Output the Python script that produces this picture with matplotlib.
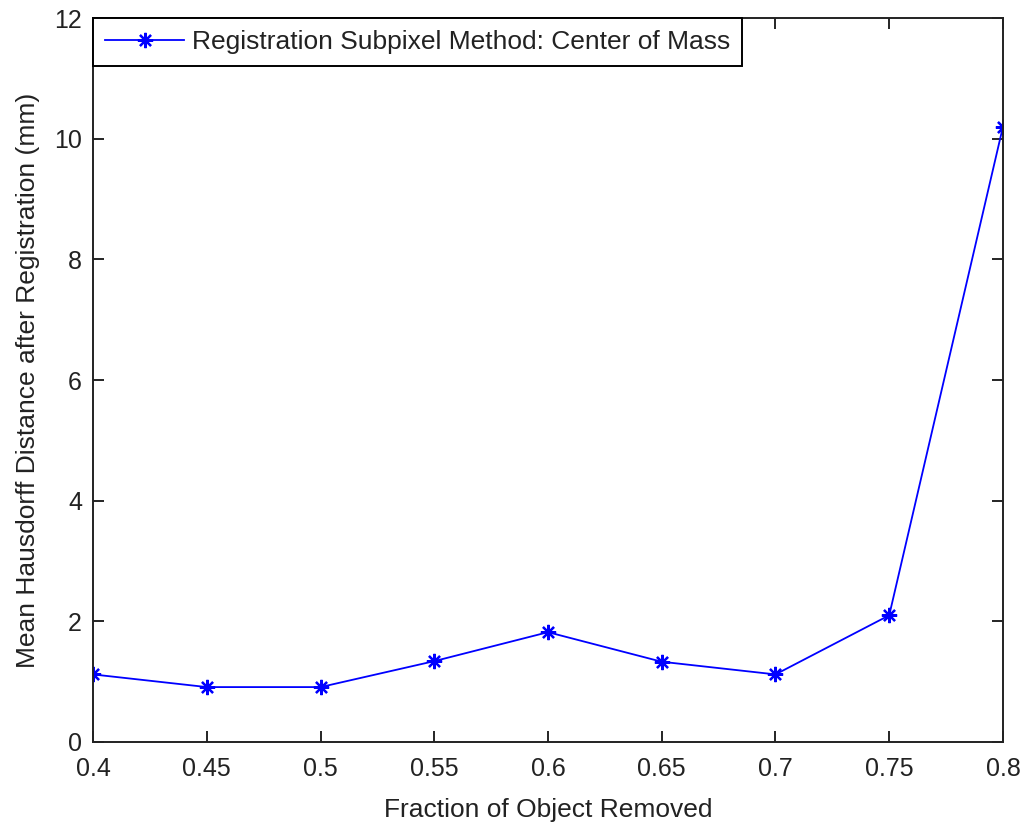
import numpy as np
import matplotlib.pyplot as plt

plt.rcParams['font.family'] = ['Liberation Sans', 'DejaVu Sans']

# Daten
fraction = [0.4, 0.45, 0.5, 0.55, 0.6, 0.65, 0.7, 0.75, 0.8]
hausdorff = [1.12, 0.91, 0.91, 1.34, 1.82, 1.33, 1.12, 2.1, 10.2]
xticks = [0.4, 0.45, 0.5, 0.55, 0.6, 0.65, 0.7, 0.75, 0.8]
xticklabels = ['0.4', '0.45', '0.5', '0.55', '0.6', '0.65', '0.7', '0.75', '0.8']
yticks = [0, 2, 4, 6, 8, 10, 12]

fig = plt.figure(figsize=(10.27, 8.27), dpi=100)
ax = fig.add_axes([0.0906, 0.1028, 0.886, 0.8754])

ax.plot(fraction, hausdorff, color='blue', linewidth=1.3, marker=(8, 2, 0),
        markersize=11, markeredgewidth=1.6,
        label='Registration Subpixel Method: Center of Mass')

ax.set_xlim(0.4, 0.8)
ax.set_ylim(0, 12)
ax.set_xticks(xticks)
ax.set_xticklabels(xticklabels)
ax.set_yticks(yticks)
ax.tick_params(direction='in', top=True, right=True, labelsize=18, length=8, width=1.2,
               labelcolor='#222222')
ax.tick_params(axis='x', pad=11)
ax.tick_params(axis='y', pad=8)
for s in ax.spines.values():
    s.set_linewidth(1.4)
    s.set_color('#222222')

ax.set_xlabel('Fraction of Object Removed', fontsize=19, labelpad=12, color='#222222')
ax.set_ylabel('Mean Hausdorff Distance after Registration (mm)', fontsize=19, labelpad=10,
              color='#222222')

leg = ax.legend(loc='upper left', fontsize=19, fancybox=False, borderaxespad=0,
                handlelength=3.0, handletextpad=0.3, borderpad=0.45, framealpha=1)
leg.get_frame().set_edgecolor('black')
leg.get_frame().set_linewidth(1.4)
for t in leg.get_texts():
    t.set_color('#222222')

fig.savefig('out.png', dpi=100)
